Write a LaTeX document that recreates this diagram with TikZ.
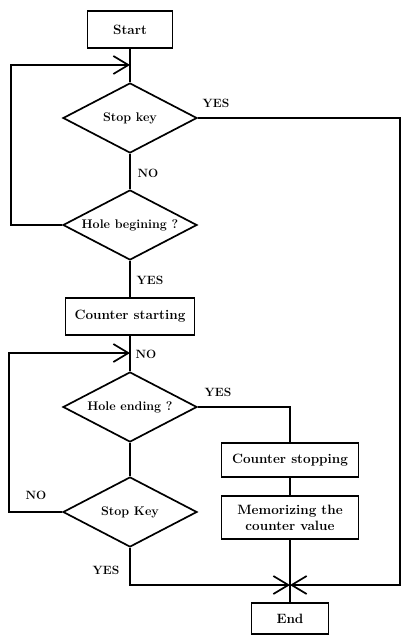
\documentclass[tikz,border=0pt]{standalone}
\usepackage{fontspec}
\usetikzlibrary{shapes.geometric,arrows.meta}
\begin{document}
\begin{tikzpicture}[x=1pt, y=-1pt, line width=1.7pt,
        box/.style={draw, rectangle, inner sep=0pt, font=\fontsize{13.5}{16}\selectfont\bfseries},
        test/.style={draw, diamond, aspect=1.9, inner sep=0pt, minimum width=134pt, minimum height=70pt,
            font=\fontsize{12.5}{15}\selectfont\bfseries},
        lbl/.style={font=\fontsize{12}{14}\selectfont\bfseries},
        flow/.style={-{Straight Barb[length=15pt, width=18pt]}}]
    \useasboundingbox (0,0) rectangle (402,639);
    \node[box, minimum width=85pt, minimum height=37pt] (start) at (130,29.5) {Start};
    \node[test] (stopk) at (130,118) {Stop key};
    \node[test] (holeb) at (130,225) {Hole begining ?};
    \node[box, minimum width=129pt, minimum height=37pt] (cstart) at (130,316.5) {Counter starting};
    \node[test] (holee) at (130,407) {Hole ending ?};
    \node[test] (stopk2) at (130,512) {Stop Key};
    \node[box, minimum width=137pt, minimum height=34pt] (cstop) at (290,460) {Counter stopping};
    \node[box, minimum width=137pt, minimum height=43pt, align=center] (memo) at (290,517.5)
        {Memorizing the\\counter value};
    \node[box, minimum width=77pt, minimum height=31pt] (end) at (290,618.5) {End};
    \coordinate (in1) at (130,65);
    \coordinate (back1) at (11,65);
    \coordinate (in2) at (130,353);
    \coordinate (back2) at (9,353);
    \coordinate (join) at (290,585);
    \coordinate (edge) at (400,585);
    \draw (start) -- (stopk);
    \draw (stopk) -- (holeb);
    \draw (holeb) -- (cstart);
    \draw (cstart) -- (holee);
    \draw (holee) -- (stopk2);
    \draw (holee.east) -| (cstop.north);
    \draw (cstop) -- (memo);
    \draw (memo) -- (end);
    \draw[flow] (holeb.west) -| (back1) -- (in1);
    \draw[flow] (stopk2.west) -| (back2) -- (in2);
    \draw[flow] (stopk.east) -| (edge) -- (join);
    \draw[flow] (stopk2.south) |- (join);
    \node[lbl] (yes1) at (216,103) {YES};
    \node[lbl] (no1) at (148,173) {NO};
    \node[lbl] (yes2) at (150,280) {YES};
    \node[lbl] (no2) at (146,354) {NO};
    \node[lbl] (yes3) at (218,392) {YES};
    \node[lbl] (no3) at (36,495) {NO};
    \node[lbl] (yes4) at (106,570) {YES};
\end{tikzpicture}
\end{document}
